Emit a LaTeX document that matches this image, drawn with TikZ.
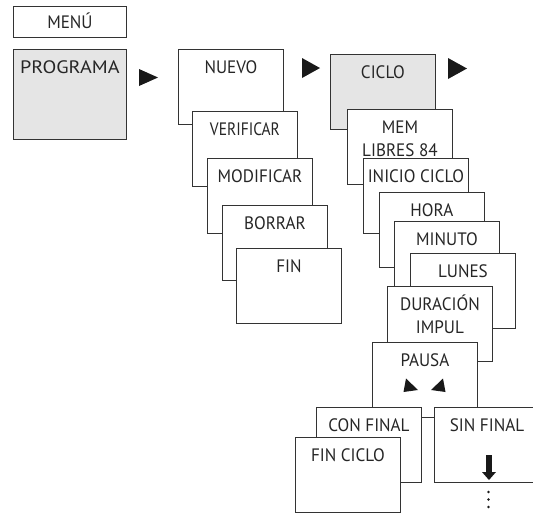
\documentclass[tikz,border=0pt]{standalone}
\usepackage{fontspec}
\newfontfamily\boxfont{PT Sans}[FakeStretch=0.95]
\newfontfamily\wideboxfont{PT Sans}[FakeStretch=1.12]
\newfontfamily\narrowboxfont{PT Sans}[FakeStretch=0.86]

\begin{document}
\begin{tikzpicture}[x=1pt, y=-1pt,
    menubox/.style={draw=black!80, line width=0.9pt, fill=white, anchor=north west,
        inner sep=0pt, minimum width=105pt, minimum height=75pt},
    menulabel/.style={anchor=base, yshift=-24.5pt, inner sep=0pt, align=center,
        font=\boxfont\fontsize{18}{23}\selectfont, text=black!85},
    widelabel/.style={font=\wideboxfont\fontsize{18}{23}\selectfont},
    narrowlabel/.style={font=\narrowboxfont\fontsize{18}{23}\selectfont},
    twolines/.style={yshift=-23pt},
    selected/.style={fill=black!10},
    menuarrow/.style={fill=black!90}]

    \useasboundingbox (0,0) rectangle (533,512);

    %% Main menu

    % Menu title
    \node[menubox, minimum width=113pt, minimum height=31pt,
        label={[menulabel, yshift=2.5pt]north:MENÚ}] (menu) at (13,6) {};

    % Program entry
    \node[menubox, selected, minimum width=113pt, minimum height=90pt,
        label={[menulabel, widelabel]north:PROGRAMA}] (programa) at (13,49) {};
    \fill[menuarrow] (139,69) -- (139,86) -- (158,77.5) -- cycle;

    %% Program submenu
    \node[menubox, label={[menulabel]north:NUEVO}] (nuevo) at (178,49) {};
    \node[menubox, label={[menulabel, narrowlabel]north:VERIFICAR}] (verificar) at (192,111) {};
    \node[menubox, label={[menulabel]north:MODIFICAR}] (modificar) at (207,158) {};
    \node[menubox, label={[menulabel]north:BORRAR}] (borrar) at (222,205) {};
    \node[menubox, label={[menulabel]north:FIN}] (fin) at (236,248) {};
    \fill[menuarrow] (302,58) -- (302,78) -- (320,68) -- cycle;

    %% New program steps
    \node[menubox, selected, label={[menulabel]north:CICLO}] (ciclo) at (330,54) {};
    \fill[menuarrow] (448,58) -- (448,79) -- (467,68.5) -- cycle;

    \node[menubox, label={[menulabel, twolines]north:{MEM\\LIBRES 84}}] (mem) at (347,109) {};
    \node[menubox, label={[menulabel]north:INICIO CICLO}] (inicio) at (363,158) {};
    \node[menubox, label={[menulabel]north:HORA}] (hora) at (379,192) {};
    \node[menubox, label={[menulabel]north:MINUTO}] (minuto) at (394,221) {};
    \node[menubox, label={[menulabel]north:LUNES}] (lunes) at (410,253) {};
    \node[menubox, label={[menulabel, twolines]north:{DURACIÓN\\IMPUL}}] (duracion) at (387,286) {};

    % Pause with its two choices
    \node[menubox, label={[menulabel]north:PAUSA}] (pausa) at (372,342) {};
    \fill[menuarrow] (406,378.5) -- (403.5,392) -- (418,390) -- cycle;
    \fill[menuarrow] (443,378.5) -- (445.5,392) -- (431,390) -- cycle;

    %% End of cycle
    \node[menubox, label={[menulabel]north:CON FINAL}] (confinal) at (316,407) {};
    \node[menubox, label={[menulabel]north:FIN CICLO}] (finciclo) at (295,437) {};
    \node[menubox, label={[menulabel]north:SIN FINAL}] (sinfinal) at (434,407) {};

    % Continue downwards
    \fill[menuarrow] (486,455) rectangle (492,472);
    \fill[menuarrow] (482,472) -- (496,472) -- (489,480) -- cycle;
    \foreach \y in {492,499.5,507}
        \fill[menuarrow] (488.5,\y) circle (1.3pt);

\end{tikzpicture}
\end{document}
